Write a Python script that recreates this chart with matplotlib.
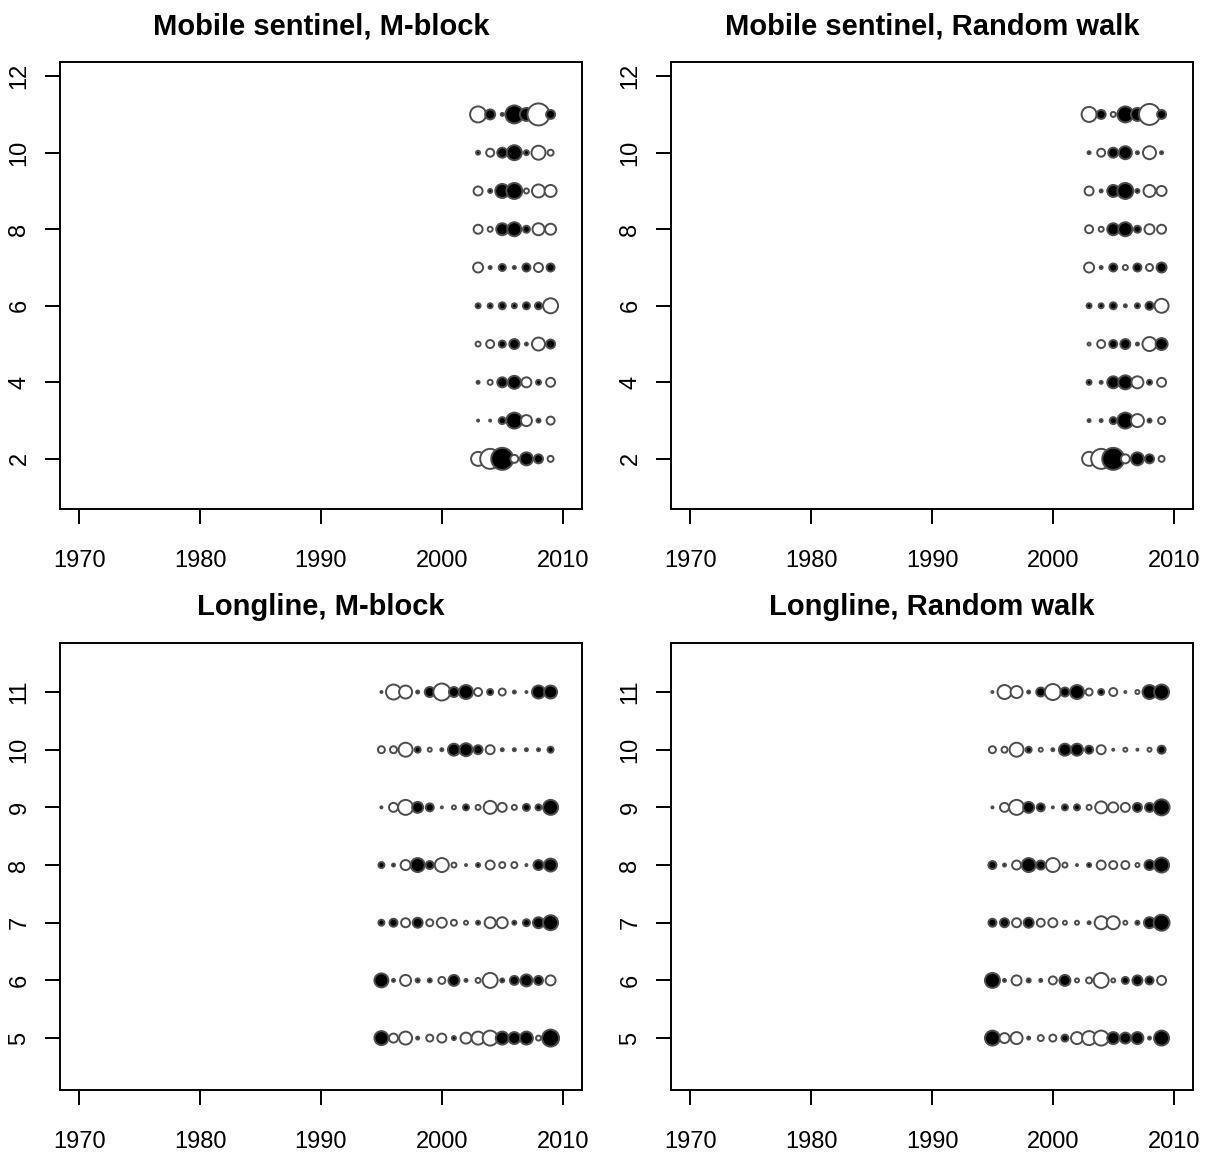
import numpy as np
import matplotlib
matplotlib.use("Agg")
import matplotlib.pyplot as plt

plt.rcParams['font.family'] = ['Liberation Sans', 'DejaVu Sans']

# residuals by age (rows) and year (columns); >0 drawn open, <0 drawn filled
ms_years = [2003, 2004, 2005, 2006, 2007, 2008, 2009]
ms_ages = [2, 3, 4, 5, 6, 7, 8, 9, 10, 11]
ms_mblock = [
    [1.4, 2.0, -2.2, 0.8, -1.3, -0.9, 0.6],
    [-0.2, -0.2, -0.7, -1.6, 1.1, -0.4, 0.8],
    [-0.3, 0.5, -1.0, -1.3, 1.0, -0.5, 0.9],
    [0.5, 0.8, -0.7, -1.0, -0.3, 1.3, -0.9],
    [-0.5, -0.5, -0.7, -0.5, -0.7, -0.7, 1.5],
    [1.0, -0.3, -0.7, -0.3, -0.8, 0.9, -0.8],
    [0.9, 0.5, -1.2, -1.4, -0.7, 1.2, 1.1],
    [0.9, -0.4, -1.4, -1.6, 0.5, 1.3, 1.2],
    [-0.4, 0.8, -1.0, -1.5, -0.5, 1.4, 0.6],
    [1.6, -1.0, -0.3, -1.8, -1.3, 2.2, -0.9],
]
ms_rwalk = [
    [1.4, 2.0, -2.2, 0.9, -1.3, -0.9, 0.6],
    [-0.3, -0.3, -0.7, -1.6, 1.3, -0.4, 0.7],
    [-0.5, -0.3, -1.2, -1.4, 1.2, -0.5, 0.9],
    [0.3, 0.8, -0.8, -1.0, -0.3, 1.4, -1.2],
    [-0.5, -0.5, -0.7, -0.3, -0.5, -0.8, 1.4],
    [1.0, -0.3, -0.8, 0.5, -0.8, 0.7, -1.0],
    [0.8, 0.5, -1.2, -1.4, -0.7, 1.0, 0.9],
    [0.9, -0.3, -1.2, -1.6, -0.4, 1.2, 1.0],
    [-0.3, 0.8, -1.0, -1.3, -0.3, 1.3, -0.3],
    [1.5, -0.9, 0.5, -1.6, -1.3, 2.1, -0.9],
]

ll_years = list(range(1995, 2010))
ll_ages = [5, 6, 7, 8, 9, 10, 11]
ll_mblock = [
    [-1.4, 0.9, 1.3, -0.3, 0.7, 0.9, -0.4, 1.1, 1.3, 1.5, -1.3, -1.2, -1.3, 0.5, -1.7],
    [-1.4, -0.3, 1.1, -0.4, -0.4, 0.7, -1.1, -0.3, 0.5, 1.5, -0.4, -0.9, -1.2, -0.9, 1.0],
    [-0.6, -0.8, 0.9, -1.0, 0.7, 1.0, 0.6, 0.4, -0.4, 1.1, 1.1, -0.4, -0.7, -1.1, -1.5],
    [-0.6, -0.3, 1.0, -1.4, -0.8, 1.4, 0.5, -0.2, -0.4, 0.9, 0.6, 0.6, -0.2, -1.0, -1.3],
    [-0.2, 0.9, 1.5, -1.1, -0.8, -0.2, 0.4, -0.6, 0.5, 1.3, 0.9, 0.5, -0.7, -0.6, -1.5],
    [0.7, 0.7, 1.4, -0.6, 0.4, -0.3, -1.2, -1.3, -0.9, 0.9, -0.3, -0.3, -0.3, -0.3, -0.6],
    [0.2, 1.5, 1.3, -0.3, -1.0, 1.7, -1.0, -1.4, 0.8, -0.6, 0.7, -0.3, -0.2, -1.3, -1.3],
]
ll_rwalk = [
    [-1.5, 1.0, 1.2, -0.3, 0.6, 0.7, -0.7, 1.2, 1.4, 1.5, -1.2, -1.1, -1.2, -0.3, -1.5],
    [-1.5, -0.3, 1.0, -0.4, -0.3, 0.8, -1.1, 0.4, 0.6, 1.5, 0.4, -0.7, -1.0, -0.8, 0.9],
    [-0.8, -0.9, 0.9, -1.0, 0.8, 0.9, 0.4, 0.4, -0.3, 1.3, 1.3, 0.4, -0.4, -1.1, -1.6],
    [-0.8, -0.3, 0.9, -1.4, -0.9, 1.4, 0.5, -0.2, -0.4, 0.9, 0.8, 0.8, 0.4, -1.0, -1.5],
    [-0.2, 0.9, 1.5, -1.1, -0.8, -0.2, -0.6, -0.6, 0.5, 1.2, 1.0, 0.9, -0.9, -0.9, -1.6],
    [0.7, 0.6, 1.4, -0.6, 0.4, -0.3, -1.2, -1.2, -0.8, 0.9, -0.2, 0.4, -0.2, 0.4, -0.8],
    [0.2, 1.4, 1.2, -0.3, -0.9, 1.6, -0.9, -1.4, 0.7, -0.6, 0.8, -0.2, 0.4, -1.4, -1.5],
]

titles = ["Mobile sentinel, M-block", "Mobile sentinel, Random walk",
          "Longline, M-block", "Longline, Random walk"]

DPI = 100
fig = plt.figure(figsize=(12.06, 11.56), dpi=DPI)
W, H = 1206, 1156
boxes = [(60, 62), (671, 62), (60, 643), (671, 643)]
bw, bh = 522, 447


def bubbles(ax, years, ages, resid):
    r = np.array(resid)
    xs, ys, ss, fc = [], [], [], []
    # draw year by year so later circles sit on top, like R does
    for j, yr in enumerate(years):
        for i, a in enumerate(ages):
            v = r[i, j]
            xs.append(yr)
            ys.append(a)
            d_pt = abs(v) * 10 * 72 / DPI
            ss.append(d_pt ** 2)
            fc.append('black' if v < 0 else 'white')
    ax.scatter(xs, ys, s=ss, c=fc, edgecolors='#4d4d4d', linewidths=1.4, zorder=3)


panels = [(ms_years, ms_ages, ms_mblock), (ms_years, ms_ages, ms_rwalk),
          (ll_years, ll_ages, ll_mblock), (ll_years, ll_ages, ll_rwalk)]

for k, (years, ages, resid) in enumerate(panels):
    x0, y0 = boxes[k]
    ax = fig.add_axes([x0 / W, 1 - (y0 + bh) / H, bw / W, bh / H])
    bubbles(ax, years, ages, resid)
    ax.set_xlim(1968.4, 2011.6)
    ax.set_xticks([1970, 1980, 1990, 2000, 2010])
    if k < 2:
        ax.set_ylim(0.69, 12.37)
        ax.set_yticks([2, 4, 6, 8, 10, 12])
    else:
        ax.set_ylim(4.10, 11.85)
        ax.set_yticks([5, 6, 7, 8, 9, 10, 11])
    for sp in ax.spines.values():
        sp.set_linewidth(1.4)
    ax.tick_params(length=10.8, width=1.4, labelsize=17)
    ax.tick_params(axis='x', pad=19)
    ax.tick_params(axis='y', pad=10.5)
    for lab in ax.get_yticklabels():
        lab.set_rotation(90)
        lab.set_va('center')
    ax.set_title(titles[k], fontsize=21, fontweight='bold', pad=20)

fig.savefig('out.png', dpi=DPI)
